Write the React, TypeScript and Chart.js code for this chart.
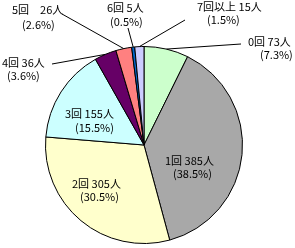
import React, { useEffect, useRef } from "react";
import { Chart, registerables } from "chart.js";

Chart.register(...registerables);

const categories = ["0回", "1回", "2回", "3回", "4回", "5回", "6回", "7回以上"];
const counts = [73, 385, 305, 155, 36, 26, 5, 15];
const percents = ["7.3%", "38.5%", "30.5%", "15.5%", "3.6%", "2.6%", "0.5%", "1.5%"];
const colors = ["#CCFFCC", "#A8A8A8", "#FFFFCC", "#CCFFFF", "#660066", "#FF8080", "#0066CC", "#CCCCFF"];

// label layout: [line1 x, line1 y, line2 x, line2 y, leader end x, leader end y or null, separator]
const labelLayout: Array<{ x1: number; y1: number; x2: number; y2: number; lx?: number; ly?: number; sep: string }> = [
  { x1: 248, y1: 42, x2: 260, y2: 55, lx: 241, ly: 44, sep: " " },
  { x1: 165, y1: 161, x2: 173, y2: 174, sep: " " },
  { x1: 72, y1: 184, x2: 80, y2: 197, sep: " " },
  { x1: 65, y1: 114, x2: 75, y2: 128, sep: " " },
  { x1: 2, y1: 63, x2: 7, y2: 76, lx: 52, ly: 64, sep: " " },
  { x1: 12, y1: 10, x2: 22, y2: 25, lx: 62, ly: 14, sep: "　" },
  { x1: 107, y1: 8, x2: 110, y2: 22, lx: 128, ly: 28, sep: " " },
  { x1: 197, y1: 7, x2: 207, y2: 20, lx: 185, ly: 20, sep: " " },
];

const labelPlugin = {
  id: "pieLabels",
  afterDatasetsDraw(chart: any) {
    const ctx = chart.ctx;
    const meta = chart.getDatasetMeta(0);
    ctx.save();
    ctx.fillStyle = "#000";
    ctx.strokeStyle = "#000";
    ctx.lineWidth = 1;
    ctx.font = '11px "Noto Sans CJK JP", sans-serif';
    ctx.textAlign = "left";
    ctx.textBaseline = "middle";
    meta.data.forEach((arc: any, i: number) => {
      const L = labelLayout[i];
      const p = arc.getProps(["x", "y", "startAngle", "endAngle", "outerRadius"], true);
      if (L.lx !== undefined && L.ly !== undefined) {
        const mid = (p.startAngle + p.endAngle) / 2;
        const ex = p.x + Math.cos(mid) * p.outerRadius;
        const ey = p.y + Math.sin(mid) * p.outerRadius;
        ctx.beginPath();
        ctx.moveTo(L.lx, L.ly);
        ctx.lineTo(ex, ey);
        ctx.stroke();
      }
      ctx.fillText(`${categories[i]}${L.sep}${counts[i]}人`, L.x1, L.y1);
      ctx.fillText(`(${percents[i]})`, L.x2, L.y2);
    });
    ctx.restore();
  },
};

export default function App() {
  const ref = useRef<HTMLCanvasElement>(null);
  useEffect(() => {
    document.body.style.margin = "0";
    const chart = new Chart(ref.current as HTMLCanvasElement, {
      type: "pie",
      data: {
        labels: categories,
        datasets: [
          {
            data: counts,
            backgroundColor: colors,
            borderColor: "#000",
            borderWidth: 1,
          },
        ],
      },
      options: {
        responsive: false,
        animation: false,
        devicePixelRatio: 1,
        layout: { padding: { top: 46, bottom: 4, left: 40, right: 47 } },
        plugins: { legend: { display: false }, tooltip: { enabled: false } },
      },
      plugins: [labelPlugin],
    });
    return () => chart.destroy();
  }, []);
  return (
    <div style={{ width: 295, height: 248, background: "#fff" }}>
      <canvas ref={ref} width={295} height={248} style={{ display: "block" }} />
    </div>
  );
}
